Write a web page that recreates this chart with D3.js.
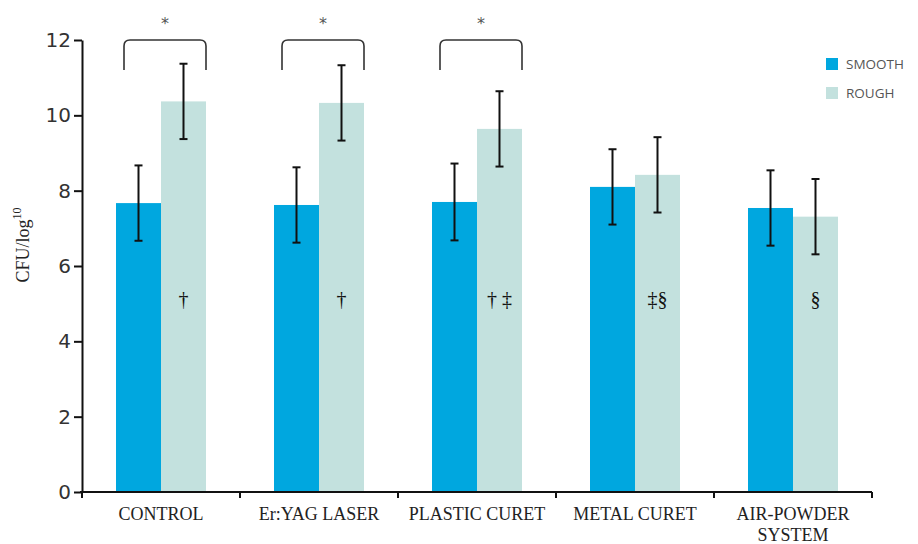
<!DOCTYPE html>
<html><head><meta charset="utf-8">
<script src="https://cdn.jsdelivr.net/npm/d3@7"></script>
<style>body{margin:0;background:#fff}</style>
</head><body><svg id="c" width="918" height="544"></svg>
<script>
const categories = ["CONTROL","Er:YAG LASER","PLASTIC CURET","METAL CURET","AIR-POWDER SYSTEM"];
const seriesNames = ["SMOOTH","ROUGH"];
const smooth = [7.67, 7.62, 7.70, 8.10, 7.54];
const rough = [10.37, 10.33, 9.64, 8.42, 7.31];
const smoothErr = [1.0, 1.0, 1.02, 1.0, 1.0];
const roughErr = [1.0, 1.0, 1.0, 1.0, 1.0];
const yTicks = [0,2,4,6,8,10,12];
const marks = ["†","†","† ‡","‡§","§"];
const sigBrackets = [0,1,2];

const colors = {SMOOTH:"#00a7df", ROUGH:"#c3e1de"};
const svg = d3.select("#c");
const m = {l:82, r:46, t:40, b:52};
const W = 918, H = 544;
const x = d3.scaleBand().domain(categories).range([m.l, W-m.r]).paddingInner(0).paddingOuter(0);
const y = d3.scaleLinear().domain([0,12]).range([H-m.b, m.t]);
const barW = 45;
const sub = d3.scaleBand().domain(seriesNames).range([0, barW*2]);
const off = (x.bandwidth() - barW*2)/2;

const data = categories.map((c,i)=>({c, vals:[
  {s:"SMOOTH", v:smooth[i], e:smoothErr[i]},
  {s:"ROUGH", v:rough[i], e:roughErr[i]}]}));

const g = svg.append("g");
const grp = g.selectAll("g.grp").data(data).join("g").attr("transform", d=>`translate(${x(d.c)+off},0)`);
grp.selectAll("rect").data(d=>d.vals).join("rect")
  .attr("x", d=>sub(d.s)).attr("width", sub.bandwidth())
  .attr("y", d=>y(d.v)).attr("height", d=>y(0)-y(d.v)).attr("fill", d=>colors[d.s]);

// error bars
const eb = grp.selectAll("g.eb").data(d=>d.vals).join("g").attr("stroke","#111").attr("stroke-width",2);
const cx = d=>sub(d.s)+sub.bandwidth()/2;
eb.append("line").attr("x1", cx).attr("x2", cx)
  .attr("y1", d=>y(d.v+d.e)).attr("y2", d=>y(d.v-d.e));
eb.append("line").attr("x1", d=>cx(d)-4).attr("x2", d=>cx(d)+4)
  .attr("y1", d=>y(d.v+d.e)).attr("y2", d=>y(d.v+d.e));
eb.append("line").attr("x1", d=>cx(d)-4).attr("x2", d=>cx(d)+4)
  .attr("y1", d=>y(d.v-d.e)).attr("y2", d=>y(d.v-d.e));

// symbols
grp.append("text").attr("x", sub("ROUGH")+sub.bandwidth()/2).attr("y", y(4.95))
  .attr("text-anchor","middle").attr("font-family","Liberation Serif, serif").attr("font-size",20).attr("fill","#111")
  .text((d,i)=>marks[i]);

// brackets
sigBrackets.forEach(i=>{
  const bx = x(categories[i])+off;
  const x1 = bx + 8, x2 = bx + barW*2, yt = y(12), yb = yt + 30, r = 6;
  g.append("path").attr("fill","none").attr("stroke","#333").attr("stroke-width",1.6)
    .attr("d", `M${x1},${yb} L${x1},${yt+r} Q${x1},${yt} ${x1+r},${yt} L${x2-r},${yt} Q${x2},${yt} ${x2},${yt+r} L${x2},${yb}`);
  g.append("text").attr("x",(x1+x2)/2).attr("y", yt-11).attr("text-anchor","middle")
    .attr("font-family","DejaVu Sans, sans-serif").attr("font-size",16).attr("fill","#555").text("*");
});

// axes
const yAxis = svg.append("g").attr("transform",`translate(${m.l},0)`)
  .call(d3.axisLeft(y).tickValues(yTicks).tickSize(8).tickSizeOuter(0));
yAxis.select(".domain").attr("stroke","#111").attr("stroke-width",2);
yAxis.selectAll(".tick line").attr("stroke","#111").attr("stroke-width",2);
yAxis.selectAll(".tick text").attr("font-family","DejaVu Sans, sans-serif").attr("font-size",20).attr("fill","#333").attr("dx",0);

const xAxis = svg.append("g").attr("transform",`translate(0,${y(0)})`);
xAxis.append("line").attr("x1",m.l-2).attr("x2",W-m.r).attr("stroke","#111").attr("stroke-width",2);
const bounds = categories.map(c=>x(c)).concat([x(categories[categories.length-1])+x.bandwidth()]);
xAxis.selectAll("line.t").data(bounds).join("line").attr("class","t")
  .attr("x1",d=>d).attr("x2",d=>d).attr("y1",0).attr("y2",6).attr("stroke","#111").attr("stroke-width",2);
const xl = xAxis.selectAll("text").data(categories).join("text")
  .attr("x", d=>x(d)+x.bandwidth()/2).attr("y", 28).attr("text-anchor","middle")
  .attr("font-family","Liberation Serif, serif").attr("font-size",18).attr("fill","#222");
xl.each(function(d){
  const t = d3.select(this);
  if (d === "AIR-POWDER SYSTEM") {
    t.append("tspan").attr("x", x(d)+x.bandwidth()/2).text("AIR-POWDER");
    t.append("tspan").attr("x", x(d)+x.bandwidth()/2).attr("dy",21).text("SYSTEM");
  } else t.text(d);
});

// y label
const yl = svg.append("text").attr("transform",`translate(29,245) rotate(-90)`)
  .attr("text-anchor","middle").attr("font-family","Liberation Serif, serif").attr("font-size",18).attr("fill","#222");
yl.append("tspan").text("CFU/log");
yl.append("tspan").attr("font-size",12).attr("dy",-8).text("10");

// legend
const lg = svg.append("g").attr("transform","translate(826,58)");
seriesNames.forEach((s,i)=>{
  lg.append("rect").attr("x",0).attr("y",i*29).attr("width",12).attr("height",12).attr("fill",colors[s]);
  lg.append("text").attr("x",20).attr("y",i*29+11).attr("font-family","Open Sans, sans-serif").attr("font-size",13.5).attr("fill","#555").text(s);
});
</script></body></html>
